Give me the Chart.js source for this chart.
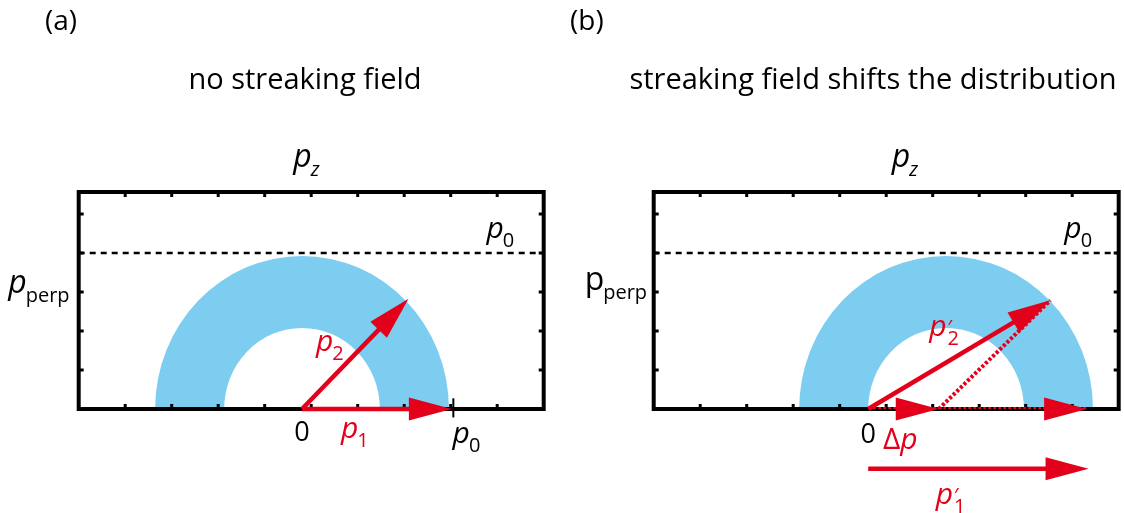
<!DOCTYPE html>
<html>
<head>
<meta charset="utf-8">
<script src="https://cdn.jsdelivr.net/npm/chart.js@4.4.1/dist/chart.umd.min.js"></script>
<style>
  body { margin: 0; background: #fff; }
  #wrap { position: relative; width: 1124px; height: 513px; overflow: hidden; font-family: "Open Sans", sans-serif; }
  #wrap canvas { position: absolute; top: 0; }
  .txt { position: absolute; white-space: nowrap; color: #000; }
  .tag { font-size: 28px; line-height: 28px; top: 5px; }
  .ttl { font-size: 29px; line-height: 29px; top: 63px; transform: translateX(-50%); }
</style>
</head>
<body>
<div id="wrap">
  <canvas id="panelA" width="562" height="513" style="left:0"></canvas>
  <canvas id="panelB" width="562" height="513" style="left:562px"></canvas>
  <div class="txt tag" style="left:45px">(a)</div>
  <div class="txt tag" style="left:570px">(b)</div>
  <div class="txt ttl" style="left:305px">no streaking field</div>
  <div class="txt ttl" style="left:873px">streaking field shifts the distribution</div>
</div>
<script>
const RED = '#e2001a';
const BLUE = '#7dcdf0';
const INK = '#000';

// momentum values, in units of p0
const pzWindowA = [-1.52, 1.645];
const pzWindowB = [-1.46, 1.705];
const pperpWindow = [0, 1.418];
const p0Level = 1.02;             // dashed p0 line
const shellRadii = [0.53, 1.0];   // inner, outer
const shellCentreA = [0, 0];
const shellCentreB = [0.53, 0];

// panel (a) vectors: [start, end]
const p1A = [[0, 0], [1.02, 0]];
const p2A = [[0, 0], [0.725, 0.72]];
const p0MarkA = [[1.03, -0.055], [1.03, 0.07]];

// panel (b) vectors
const p2B = [[0, 0], [1.24, 0.71]];
const dpB = [[0, 0], [0.48, 0]];
const p1ShiftB = [[0.48, 0], [1.49, 0]];
const p2ShiftB = [[0.48, 0], [1.24, 0.71]];
const p1PrimeB = [[0, -0.39], [1.5, -0.39]];

const pts = arr => arr.map(([x, y]) => ({ x, y }));

// annotation text, anchored in momentum units (baseline, left edge)
const labelsA = [
  { x: -0.06, y: 1.58, main: 'p', sub: 'z', subItalic: true, size: 32 },
  { x: 1.255, y: 1.12, main: 'p', sub: '0' },
  { x: -2.0, y: 0.76, main: 'p', sub: 'perp', size: 32 },
  { x: 0, y: -0.21, main: '0', upright: true, center: true, size: 27 },
  { x: 0.265, y: -0.19, main: 'p', sub: '1', color: RED },
  { x: 1.025, y: -0.225, main: 'p', sub: '0' },
  { x: 0.095, y: 0.38, main: 'p', sub: '2', color: RED }
];
const labelsB = [
  { x: 0.16, y: 1.58, main: 'p', sub: 'z', subItalic: true, size: 32 },
  { x: 1.335, y: 1.12, main: 'p', sub: '0' },
  { x: -1.93, y: 0.78, main: 'p', sub: 'perp', size: 32, upright: true },
  { x: 0, y: -0.225, main: '0', upright: true, center: true, size: 27 },
  { x: 0.10, y: -0.26, pre: '\u0394', main: 'p', color: RED },
  { x: 0.46, y: -0.62, main: 'p', sub: '1', prime: true, color: RED },
  { x: 0.415, y: 0.48, main: 'p', sub: '2', prime: true, color: RED }
];

// half shell + box frame with inward ticks
const shellPlugin = {
  id: 'shell',
  beforeDatasetsDraw(chart, args, opts) {
    const { ctx, chartArea: a, scales: { x, y } } = chart;
    const c = opts.centre;
    const cx = x.getPixelForValue(c[0]), cy = y.getPixelForValue(c[1]);
    const rx = r => x.getPixelForValue(c[0] + r) - cx;
    const ry = r => cy - y.getPixelForValue(c[1] + r);
    ctx.save();
    ctx.beginPath();
    ctx.ellipse(cx, cy, rx(shellRadii[1]), ry(shellRadii[1]), 0, Math.PI, 2 * Math.PI);
    ctx.ellipse(cx, cy, rx(shellRadii[0]), ry(shellRadii[0]), 0, 2 * Math.PI, Math.PI, true);
    ctx.closePath();
    ctx.fillStyle = BLUE;
    ctx.fill();

    ctx.strokeStyle = INK;
    ctx.lineWidth = 3;
    ctx.beginPath();
    x.ticks.forEach(t => {
      const px = x.getPixelForValue(t.value);
      ctx.moveTo(px, a.top); ctx.lineTo(px, a.top + 5);
      ctx.moveTo(px, a.bottom); ctx.lineTo(px, a.bottom - 5);
    });
    y.ticks.forEach(t => {
      const py = y.getPixelForValue(t.value);
      ctx.moveTo(a.left, py); ctx.lineTo(a.left + 5, py);
      ctx.moveTo(a.right, py); ctx.lineTo(a.right - 5, py);
    });
    ctx.stroke();
    ctx.lineWidth = 4;
    ctx.lineJoin = 'miter';
    ctx.strokeRect(a.left, a.top, a.right - a.left, a.bottom - a.top);
    ctx.restore();
  }
};

// arrows: shaft + head, from the dataset's points
const arrowPlugin = {
  id: 'arrows',
  afterDatasetsDraw(chart) {
    const ctx = chart.ctx;
    chart.data.datasets.forEach((ds, i) => {
      if (!ds.arrow) return;
      const el = chart.getDatasetMeta(i).data;
      const a = el[0], b = el[el.length - 1];
      const ang = Math.atan2(b.y - a.y, b.x - a.x);
      const L = 43, W = 11.5;
      const cs = Math.cos(ang), sn = Math.sin(ang);
      const bx = b.x - L * cs, by = b.y - L * sn;
      ctx.save();
      ctx.strokeStyle = ctx.fillStyle = ds.borderColor;
      if (ds.arrow === 'full') {
        ctx.lineWidth = 4.5;
        ctx.beginPath();
        ctx.moveTo(a.x, a.y);
        ctx.lineTo(bx + 3 * cs, by + 3 * sn);
        ctx.stroke();
      }
      ctx.beginPath();
      ctx.moveTo(b.x, b.y);
      ctx.lineTo(bx - W * sn, by + W * cs);
      ctx.lineTo(bx + W * sn, by - W * cs);
      ctx.closePath();
      ctx.fill();
      ctx.restore();
    });
  }
};

const labelPlugin = {
  id: 'mathLabels',
  afterDraw(chart, args, opts) {
    const { ctx, scales: { x, y } } = chart;
    ctx.save();
    ctx.textBaseline = 'alphabetic';
    ctx.textAlign = 'left';
    opts.items.forEach(l => {
      const size = l.size || 30;
      let px = x.getPixelForValue(l.x);
      const py = y.getPixelForValue(l.y);
      ctx.fillStyle = l.color || INK;
      if (l.pre) {
        ctx.font = `${size}px "Open Sans"`;
        ctx.fillText(l.pre, px, py);
        px += ctx.measureText(l.pre).width;
      }
      ctx.font = `${l.upright ? '' : 'italic '}${size}px "Open Sans"`;
      const w = ctx.measureText(l.main).width;
      if (l.center) px -= w / 2;
      ctx.fillText(l.main, px, py);
      px += w;
      if (l.prime) {
        ctx.font = '20px "Open Sans"';
        ctx.fillText('\u2032', px + 1, py - 2);
      }
      if (l.sub) {
        ctx.font = `${l.subItalic ? 'italic ' : ''}20px "Open Sans"`;
        ctx.fillText(l.sub, px + (l.prime ? 1 : -1), py + 9);
      }
    });
    ctx.restore();
  }
};

const line = (data, color, width, dash, extra) => Object.assign({
  data: pts(data), showLine: true, borderColor: color, borderWidth: width,
  borderDash: dash, borderCapStyle: 'butt', pointRadius: 0, fill: false
}, extra || {});
const arrow = (data, kind) => ({
  data: pts(data), showLine: false, pointRadius: 0, borderColor: RED, arrow: kind
});

function makePanel(id, pzWindow, padding, datasets, centre, labels) {
  return new Chart(document.getElementById(id), {
    type: 'scatter',
    data: { datasets },
    options: {
      responsive: false,
      animation: false,
      events: [],
      layout: { padding },
      scales: {
        x: {
          type: 'linear', display: false, min: pzWindow[0], max: pzWindow[1],
          afterBuildTicks: s => {
            const step = (pzWindow[1] - pzWindow[0]) / 10;
            s.ticks = [1, 2, 3, 4, 5, 6, 7, 8, 9].map(k => ({ value: pzWindow[0] + k * step }));
          }
        },
        y: {
          type: 'linear', display: false, min: pperpWindow[0], max: pperpWindow[1],
          afterBuildTicks: s => {
            s.ticks = [1, 2, 3, 4, 5].map(k => ({ value: k * p0Level / 4 }));
          }
        }
      },
      plugins: {
        legend: { display: false },
        tooltip: { enabled: false },
        shell: { centre },
        mathLabels: { items: labels }
      }
    },
    plugins: [shellPlugin, arrowPlugin, labelPlugin]
  });
}

const p0LineA = [[pzWindowA[0], p0Level], [pzWindowA[1], p0Level]];
const p0LineB = [[pzWindowB[0], p0Level], [pzWindowB[1], p0Level]];

makePanel('panelA', pzWindowA, { left: 78.7, right: 18.3, top: 192, bottom: 104 }, [
  line(p0LineA, INK, 2.5, [6, 5]),
  line(p0MarkA, INK, 2, [], { clip: false }),
  arrow(p1A, 'full'),
  arrow(p2A, 'full')
], shellCentreA, labelsA);

makePanel('panelB', pzWindowB, { left: 91.7, right: 5.3, top: 192, bottom: 104 }, [
  line(p0LineB, INK, 2.5, [6, 5]),
  line([dpB[0], p1ShiftB[1]], RED, 4, [3, 2]),
  line(p2ShiftB, RED, 4, [3, 2]),
  arrow(dpB, 'head'),
  arrow(p1ShiftB, 'head'),
  arrow(p2B, 'full'),
  arrow(p1PrimeB, 'full')
], shellCentreB, labelsB);
</script>
</body>
</html>
